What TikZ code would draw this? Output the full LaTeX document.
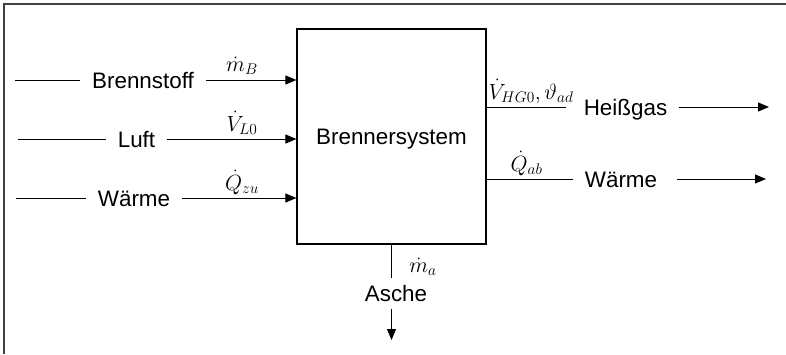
\RequirePackage{fix-cm}
\documentclass[tikz,border=0pt]{standalone}
\usepackage{fontspec}
\setmainfont{Liberation Sans}
\usetikzlibrary{arrows.meta}
\tikzset{
  lbl/.style={font=\fontsize{22.4}{27}\selectfont, text height=16pt, text depth=0pt, inner xsep=12pt, inner ysep=0pt},
  mth/.style={font=\fontsize{22}{26}\selectfont, anchor=base, inner sep=0pt},
  flow/.style={line width=1pt},
  arr/.style={flow, -{Triangle[length=11pt,width=9pt]}},
  frame/.style={line width=1.5pt, draw=black!75},
}
\begin{document}
\begin{tikzpicture}[x=1pt,y=-1pt]
\useasboundingbox (0,0) rectangle (786,354);
\draw[frame] (4,354) -- (4,4) -- (790,4);

% system box
\node[draw, line width=1.2pt, minimum width=189pt, minimum height=215pt, lbl, inner xsep=0pt] (sys) at (391.5,136.5) {Brennersystem};

% inputs
\coordinate (b0) at (15,80);
\node[lbl] (bs) at (143,80) {Brennstoff};
\draw[flow] (b0) -- (bs);
\draw[arr] (bs) -- (bs -| sys.west);
\node[mth] (mb) at (242,71) {$\dot{m}_B$};

\coordinate (l0) at (18,139);
\node[lbl] (lu) at (136.5,139) {Luft};
\draw[flow] (l0) -- (lu);
\draw[arr] (lu) -- (lu -| sys.west);
\node[mth] (vl) at (242,131) {$\dot{V}_{L0}$};

\coordinate (w0) at (16,198);
\node[lbl] (wa) at (134,198) {Wärme};
\draw[flow] (w0) -- (wa);
\draw[arr] (wa) -- (wa -| sys.west);
\node[mth] (qz) at (242,190) {$\dot{Q}_{zu}$};

% outputs
\node[lbl] (hg) at (625.5,107) {Heißgas};
\coordinate (h1) at (769,107);
\draw[flow] (sys.east |- hg) -- ([xshift=-6pt]hg.west);
\draw[arr] (hg) -- (h1);
\node[mth] (vh) at (531,99) {$\dot{V}_{HG0},\vartheta_{ad}$};

\node[lbl] (wb) at (621,179) {Wärme};
\coordinate (w1) at (766,179);
\draw[flow] (sys.east |- wb) -- (wb);
\draw[arr] ([xshift=8pt]wb.east) -- (w1);
\node[mth] (qa) at (526.5,171) {$\dot{Q}_{ab}$};

% ash
\node[lbl, inner xsep=0pt, inner ysep=7pt] (as) at (396,293.5) {Asche};
\coordinate (a1) at (391.5,340);
\draw[flow] (sys.south) -- (sys.south |- as.north);
\draw[arr] (sys.south |- as.south) -- (a1);
\node[mth] (ma) at (423,272) {$\dot{m}_a$};
\end{tikzpicture}
\end{document}
